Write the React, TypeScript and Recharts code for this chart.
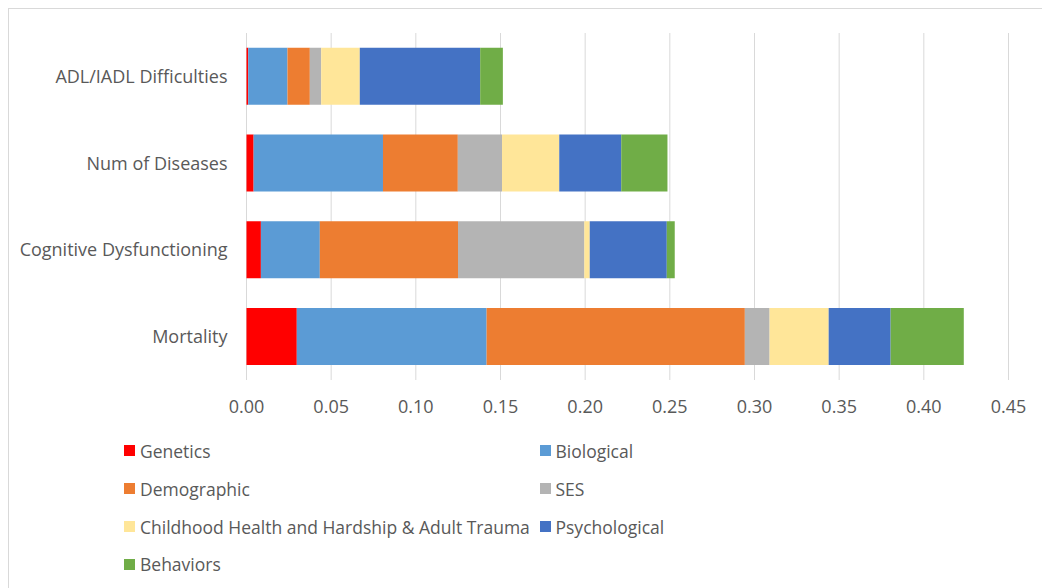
import React from "react";
import { BarChart, Bar, XAxis, YAxis, CartesianGrid, Legend } from "recharts";

// Outcomes, listed top to bottom
const outcomes = [
  "ADL/IADL Difficulties",
  "Num of Diseases",
  "Cognitive Dysfunctioning",
  "Mortality",
];

// Contribution of each factor domain to each outcome (same order as outcomes)
const genetics = [0.001, 0.0042, 0.0085, 0.0297];
const biological = [0.0232, 0.0764, 0.0348, 0.1121];
const demographic = [0.0132, 0.0442, 0.0816, 0.1525];
const ses = [0.0067, 0.0261, 0.0746, 0.0146];
const childhood = [0.0228, 0.0338, 0.0032, 0.0349];
const psychological = [0.0711, 0.0366, 0.0455, 0.0366];
const behaviors = [0.0134, 0.0273, 0.0047, 0.0432];

const xTicks = [0, 0.05, 0.1, 0.15, 0.2, 0.25, 0.3, 0.35, 0.4, 0.45];

const series = [
  { key: "genetics", name: "Genetics", color: "#FF0000", values: genetics },
  { key: "biological", name: "Biological", color: "#5B9BD5", values: biological },
  { key: "demographic", name: "Demographic", color: "#ED7D31", values: demographic },
  { key: "ses", name: "SES", color: "#B4B4B4", values: ses },
  {
    key: "childhood",
    name: "Childhood Health and Hardship & Adult Trauma",
    color: "#FFE699",
    values: childhood,
  },
  { key: "psychological", name: "Psychological", color: "#4472C4", values: psychological },
  { key: "behaviors", name: "Behaviors", color: "#70AD47", values: behaviors },
];

const data = outcomes.map((outcome, i) => {
  const row: Record<string, string | number> = { outcome };
  series.forEach((s) => {
    row[s.key] = s.values[i];
  });
  return row;
});

const FONT = "'Open Sans', 'Noto Sans', sans-serif";
const TEXT_COLOR = "#595959";
const CHART_W = 1100;

// Two-column legend laid out like a spreadsheet chart legend
const legendRows = [12.7, 50.7, 88.7, 126.3];
const legendCols = [115, 530.5];

function FactorLegend() {
  return (
    <div style={{ position: "relative", width: CHART_W, height: 150, fontFamily: FONT }}>
      {series.map((s, i) => {
        const col = i % 2;
        const row = Math.floor(i / 2);
        return (
          <div
            key={s.key}
            style={{
              position: "absolute",
              left: legendCols[col],
              top: legendRows[row] - 12,
              height: 24,
              display: "flex",
              alignItems: "center",
              whiteSpace: "nowrap",
            }}
          >
            <span
              style={{
                display: "inline-block",
                width: 11,
                height: 11,
                background: s.color,
                marginRight: 5,
              }}
            />
            <span style={{ fontSize: 17.5, color: TEXT_COLOR }}>{s.name}</span>
          </div>
        );
      })}
    </div>
  );
}

export default function App() {
  return (
    <div
      style={{
        position: "fixed",
        top: 8,
        left: 8,
        width: CHART_W + 1,
        height: 580,
        borderTop: "1px solid #D9D9D9",
        borderLeft: "1px solid #D9D9D9",
        background: "#FFFFFF",
        overflow: "hidden",
      }}
    >
      <BarChart
        width={CHART_W}
        height={579}
        data={data}
        layout="vertical"
        margin={{ top: 24, right: CHART_W - 999.5, bottom: 0, left: 0 }}
        barCategoryGap="17%"
      >
        <CartesianGrid horizontal={false} vertical stroke="#D9D9D9" strokeWidth={1} />
        <XAxis
          type="number"
          domain={[0, 0.45]}
          ticks={xTicks}
          tickFormatter={(v: number) => v.toFixed(2)}
          axisLine={false}
          tickLine={false}
          tickMargin={14}
          height={58}
          tick={{ fill: TEXT_COLOR, fontSize: 18, fontFamily: FONT }}
        />
        <YAxis
          type="category"
          dataKey="outcome"
          width={237.5}
          axisLine={false}
          tickLine={false}
          tickMargin={13}
          tick={{ fill: TEXT_COLOR, fontSize: 18, fontFamily: FONT }}
        />
        {series.map((s) => (
          <Bar
            key={s.key}
            dataKey={s.key}
            name={s.name}
            stackId="total"
            fill={s.color}
            isAnimationActive={false}
          />
        ))}
        <Legend
          verticalAlign="bottom"
          align="left"
          wrapperStyle={{ left: 0, width: CHART_W, height: 150 }}
          content={() => <FactorLegend />}
        />
      </BarChart>
    </div>
  );
}
